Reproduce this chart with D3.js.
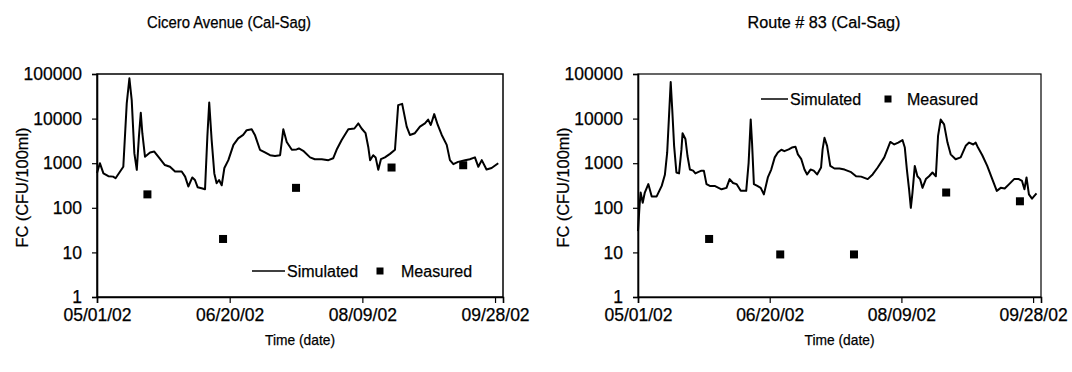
<!DOCTYPE html>
<html>
<head>
<meta charset="utf-8">
<script src="https://cdn.jsdelivr.net/npm/d3@7"></script>
<style>
  body { margin: 0; background: #fff; }
  svg text { font-family: "Liberation Sans", Arial, sans-serif; fill: #000; stroke: #000; stroke-width: 0.25px; }
</style>
</head>
<body>
<div id="chart"></div>
<script>
// days counted from 05/01/02
var ciceroSimDays = [0, 1.1, 2.4, 4.3, 6.1, 7, 8.7, 9.9, 11.2, 12.2, 13.1, 14.1, 15, 15.8, 16.5, 17.1, 18.1, 20, 21.6, 23.1,
  25.6, 27.5, 29.4, 31.9, 33.2, 34.4, 35.9, 36.9, 37.9, 39.4, 40.7, 41.6, 42.3, 43.2, 44.2, 45.1, 46, 47, 48, 49.5,
  51.4, 53.2, 55.1, 56.4, 58.3, 59.5, 61.4, 63.3, 65.2, 67.1, 69, 70.2, 71.5, 73.4, 75.2, 76.1, 77.7, 80.3, 82.1, 84.7,
  87.2, 89, 90.3, 92.2, 94.7, 97, 98.5, 99.7, 101.2, 102.2, 102.9, 104.1, 105, 106, 107, 108.5, 110.4, 112.3, 113.5, 115,
  116.7, 117.9, 119.8, 121.7, 123.6, 124.8, 125.8, 127.1, 128.4, 129.9, 131.8, 133, 134.3, 136.1, 138.7, 140.5, 142.4, 143.7, 145, 146.8,
  148.7, 151.2];
var ciceroSimFC = [600, 1000, 590, 510, 500, 460, 650, 830, 22000, 80000, 26000, 1660, 710, 3900, 13500, 4700, 1400, 1740, 1820, 1400,
  910, 830, 650, 650, 500, 300, 480, 420, 290, 275, 260, 3900, 23000, 3300, 590, 355, 420, 320, 780, 1170,
  2570, 3600, 4300, 5500, 5750, 4300, 2000, 1740, 1510, 1450, 1510, 5750, 3000, 2000, 2040, 2140, 1900, 1350, 1230, 1230,
  1170, 1290, 2000, 3300, 5750, 6000, 7800, 6000, 4700, 2340, 1170, 1510, 1350, 710, 1230, 1350, 1620, 2000, 20000, 21400,
  6600, 4300, 4700, 6600, 7800, 9500, 7200, 12600, 7200, 4300, 2570, 1170, 950, 1070, 1170, 1230, 1350, 830, 1170, 720,
  780, 1000];
var ciceroMeasDays = [19, 47.5, 75, 111, 138];
var ciceroMeasFC = [200, 20, 280, 800, 900];

var routeSimDays = [0, 0.6, 1, 1.8, 2.6, 3.9, 5.2, 7.1, 9, 10.2, 11.1, 11.7, 12.4, 13, 13.7, 14.6, 15.6, 16.5, 16.9, 18,
  18.8, 19.7, 20.9, 21.8, 22.8, 24.1, 25, 26, 27.3, 29.1, 31.7, 33.6, 34.8, 36.1, 37.4, 39, 41.1, 42, 42.8, 43.3,
  44, 45.3, 46.6, 47.8, 49.3, 50.6, 51.9, 53.1, 54.4, 55.6, 57.2, 58.4, 59.8, 60.7, 62, 63.2, 64.2, 65.5, 66.7, 68,
  69.5, 70.1, 70.8, 71.8, 73, 74.6, 76.5, 78.4, 80.9, 82.8, 84.7, 87.2, 89.1, 91, 93.5, 95.8, 97.3, 98.8, 100.4, 101.3,
  102.1, 102.9, 103.6, 104.2, 105.1, 106.1, 107.1, 108, 109.3, 110.5, 111.8, 113.1, 113.9, 114.9, 116.2, 117.5, 118.7, 120.6, 122.5, 124.4,
  125.7, 127.3, 128.2, 129.1, 130.7, 132.6, 134.5, 136.2, 137.7, 139.2, 140.9, 142.8, 144.6, 145.8, 146.7, 147.5, 148.4, 149.6, 151.3];
var routeSimFC = [30, 110, 220, 130, 220, 340, 180, 180, 310, 550, 1740, 9500, 66000, 16000, 2450, 620, 590, 2040, 4700, 3500,
  1450, 720, 680, 590, 630, 680, 680, 340, 310, 310, 260, 280, 440, 360, 340, 240, 240, 1020, 9500, 2900,
  340, 310, 280, 200, 480, 720, 1350, 1740, 2000, 1860, 2040, 2240, 2340, 1580, 1230, 720, 560, 720, 680, 560,
  800, 2040, 3700, 2450, 870, 760, 760, 720, 630, 510, 500, 440, 560, 800, 1350, 3000, 2630, 2900, 3300, 2240,
  720, 260, 100, 220, 870, 510, 440, 280, 440, 510, 620, 510, 4100, 9500, 7400, 2900, 1580, 1230, 1350, 2450,
  2900, 2630, 2900, 2240, 1510, 870, 440, 240, 280, 270, 340, 440, 440, 400, 260, 480, 200, 160, 210];
var routeMeasDays = [27, 54, 82, 117, 145];
var routeMeasFC = [20, 9, 9, 220, 140];

var yTicks = [1, 10, 100, 1000, 10000, 100000];
var dateTicks = ["05/01/02", "06/20/02", "08/09/02", "09/28/02"];

var parseDate = d3.timeParse("%m/%d/%y");
var fmtDate = d3.timeFormat("%m/%d/%y");
var startDate = parseDate("05/01/02");
var endDate = parseDate("10/01/02");

var svg = d3.select("#chart").append("svg")
  .attr("width", 1072)
  .attr("height", 372);

function toDate(d) {
  return d3.timeHour.offset(startDate, Math.round(d * 24));
}

function drawPanel(opt) {
  var x = d3.scaleTime().domain([startDate, endDate]).range([opt.left, opt.right]);
  var y = d3.scaleLog().domain([1, 100000]).range([opt.bottom, opt.top]);

  var g = svg.append("g");

  // frame
  g.append("rect")
    .attr("x", opt.left).attr("y", opt.top)
    .attr("width", opt.right - opt.left).attr("height", opt.bottom - opt.top)
    .attr("fill", "none").attr("stroke", "#000").attr("stroke-width", opt.frameW);

  var yAxis = d3.axisLeft(y).tickValues(yTicks).tickFormat(d3.format("d")).tickSize(5).tickPadding(10);
  var ya = g.append("g").attr("transform", "translate(" + opt.left + ",0)").call(yAxis);
  ya.selectAll("text").style("font-size", "17.5px");

  var xAxis = d3.axisBottom(x).tickValues(dateTicks.map(parseDate)).tickFormat(fmtDate).tickSize(6).tickPadding(6);
  var xa = g.append("g").attr("transform", "translate(0," + opt.bottom + ")").call(xAxis);
  xa.selectAll("text").style("font-size", "17.5px");

  g.selectAll(".domain").attr("stroke-width", 1.6);
  g.selectAll(".tick line").attr("stroke-width", 1.2);

  // simulated line
  var pts = opt.simDays.map(function(d, i) { return [toDate(d), opt.simFC[i]]; });
  var line = d3.line()
    .x(function(d) { return x(d[0]); })
    .y(function(d) { return y(d[1]); });
  g.append("path").datum(pts)
    .attr("d", line)
    .attr("fill", "none")
    .attr("stroke", "#000")
    .attr("stroke-width", 2)
    .attr("stroke-linejoin", "round");

  // measured points
  var meas = opt.measDays.map(function(d, i) { return [toDate(d), opt.measFC[i]]; });
  g.selectAll("rect.meas").data(meas).enter()
    .append("rect").attr("class", "meas")
    .attr("x", function(d) { return x(d[0]) - 4; })
    .attr("y", function(d) { return y(d[1]) - 4; })
    .attr("width", 8).attr("height", 8)
    .attr("fill", "#000");

  // titles (scan text is a bit narrow, squeeze it a little to the measured width)
  g.append("text").attr("x", opt.titleX).attr("y", 28)
    .attr("text-anchor", "middle").style("font-size", "16px")
    .attr("textLength", opt.titleW).attr("lengthAdjust", "spacingAndGlyphs").text(opt.title);
  g.append("text").attr("x", (opt.left + opt.right) / 2).attr("y", 345)
    .attr("text-anchor", "middle").style("font-size", "15px")
    .attr("textLength", 70).attr("lengthAdjust", "spacingAndGlyphs").text("Time (date)");
  g.append("text")
    .attr("transform", "translate(" + (opt.left - 69) + "," + ((opt.top + opt.bottom) / 2 + 2) + ") rotate(-90)")
    .attr("text-anchor", "middle").style("font-size", "16.5px")
    .attr("textLength", 120).attr("lengthAdjust", "spacingAndGlyphs").text("FC (CFU/100ml)");

  // legend
  var L = opt.leg;
  var lg = g.append("g").attr("transform", "translate(" + L.x + "," + L.y + ")");
  lg.append("line").attr("x1", 0).attr("x2", L.lineLen).attr("y1", 0).attr("y2", 0)
    .attr("stroke", "#000").attr("stroke-width", 1.5);
  lg.append("text").attr("x", L.lineLen + 2).attr("y", 6).style("font-size", "16px").text("Simulated");
  lg.append("rect").attr("x", L.sq - 3.5).attr("y", -3.5).attr("width", 7).attr("height", 7).attr("fill", "#000");
  lg.append("text").attr("x", L.meas).attr("y", 6).style("font-size", "16px").text("Measured");
}

drawPanel({
  left: 97, right: 503, top: 74, bottom: 297, frameW: 1.5,
  title: "Cicero Avenue (Cal-Sag)", titleX: 229, titleW: 164,
  simDays: ciceroSimDays, simFC: ciceroSimFC,
  measDays: ciceroMeasDays, measFC: ciceroMeasFC,
  leg: { x: 252, y: 271, lineLen: 33, sq: 128, meas: 149 }
});

drawPanel({
  left: 638, right: 1041, top: 74, bottom: 297, frameW: 1.2,
  title: "Route # 83 (Cal-Sag)", titleX: 824, titleW: 153,
  simDays: routeSimDays, simFC: routeSimFC,
  measDays: routeMeasDays, measFC: routeMeasFC,
  leg: { x: 761, y: 99, lineLen: 27, sq: 127, meas: 146 }
});
</script>
</body>
</html>
